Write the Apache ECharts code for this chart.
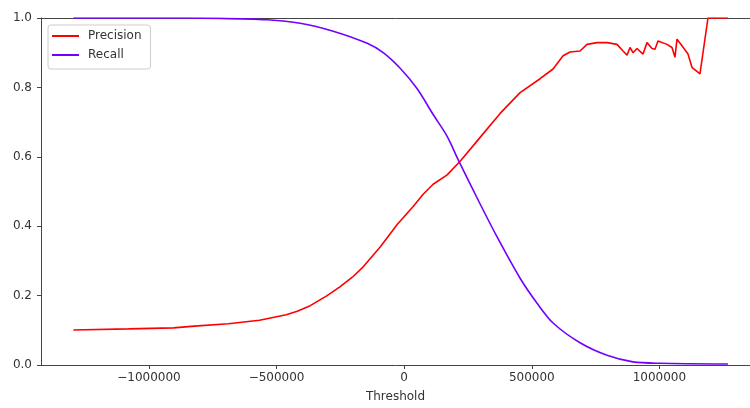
<!DOCTYPE html>
<html>
<head>
<meta charset="utf-8">
<script src="https://cdn.jsdelivr.net/npm/echarts@6/dist/echarts.min.js"></script>
<style>
  html, body { margin: 0; padding: 0; background: #fff; }
  #chart { width: 750px; height: 408px; }
</style>
</head>
<body>
<div id="chart"></div>
<script>
// values
const precisionThresholds = [-1296000, -1080000, -904000, -822000, -689000, -567000, -462000, -419000, -368000, -302000,
    -250600, -203000, -160500, -94000, -27400,
    35200, 74400, 113500, 168400, 219300, 297600, 375900, 454200, 532500, 583400, 622600, 650000, 689100, 716500,
    755700, 794800, 834000, 857500, 873100, 884900, 896600, 912300, 935800, 951400, 971000, 982800, 994500,
    1029800, 1049300, 1061100, 1068900, 1088500, 1112000, 1127600, 1159000, 1166800, 1190300, 1268600];
const precisions = [0.101, 0.104, 0.107, 0.112, 0.119, 0.129, 0.145, 0.155, 0.171, 0.2,
    0.226, 0.253, 0.283, 0.34, 0.405,
    0.457, 0.492, 0.521, 0.548, 0.587, 0.656, 0.725, 0.785, 0.825, 0.853, 0.891, 0.902, 0.905, 0.924,
    0.929, 0.929, 0.924, 0.905, 0.893, 0.915, 0.9, 0.912, 0.896, 0.929, 0.912, 0.91, 0.934,
    0.924, 0.915, 0.887, 0.939, 0.92, 0.896, 0.858, 0.839, 0.836, 1.0, 1.0];

const recallThresholds = [-1296000, -994500, -720400, -536400, -407200, -278000, -144900, -82200, -15700, 50900,
    113500, 168400, 211400, 297600, 364100, 454200, 520700, 583400, 689100, 794800, 896600, 1002300, 1268600];
const recalls = [1.0, 1.0, 0.999, 0.995, 0.985, 0.962, 0.927, 0.9, 0.855, 0.796,
    0.722, 0.659, 0.592, 0.464, 0.369, 0.25, 0.178, 0.121, 0.064, 0.028, 0.009, 0.005, 0.003];

const xTicks = [-1000000, -500000, 0, 500000, 1000000];
const xMin = -1423000;
const xMax = 1355000;

function pairs(xs, ys) {
    return xs.map((x, i) => [x, ys[i]]);
}

var myChart = echarts.init(document.getElementById('chart'));

const axisColor = '#444';
const textColor = '#333';
const font = 'DejaVu Sans';

var option = {
    animation: false,
    grid: { left: 41, right: 0, top: 18, bottom: 39 },
    legend: {
        orient: 'vertical',
        left: 48, top: 25,
        padding: [5, 9, 8, 4],
        itemGap: 7,
        itemWidth: 27, itemHeight: 2,
        icon: 'rect',
        borderColor: '#ccc', borderWidth: 1, borderRadius: 3,
        backgroundColor: '#fff',
        textStyle: { fontFamily: font, fontSize: 12, color: textColor, padding: [0, 0, 0, 4] },
        data: ['Precision', 'Recall']
    },
    xAxis: [
        {
            type: 'value',
            min: xMin, max: xMax,
            name: 'Threshold',
            nameLocation: 'middle',
            nameGap: 26,
            nameTextStyle: { fontFamily: font, fontSize: 12, color: textColor },
            axisLine: { show: true, onZero: false, lineStyle: { color: axisColor } },
            axisTick: { show: true, inside: false, length: 4, customValues: xTicks, lineStyle: { color: axisColor } },
            axisLabel: {
                customValues: xTicks,
                margin: 7,
                fontFamily: font, fontSize: 12, color: textColor,
                formatter: v => String(v).replace('-', '\u2212')
            },
            splitLine: { show: false }
        },
        {
            // top spine only
            type: 'value',
            position: 'top',
            min: xMin, max: xMax,
            axisLine: { show: true, onZero: false, lineStyle: { color: axisColor } },
            axisTick: { show: false },
            axisLabel: { show: false },
            splitLine: { show: false }
        }
    ],
    yAxis: {
        type: 'value',
        min: 0, max: 1, interval: 0.2,
        axisLine: { show: true, onZero: false, lineStyle: { color: axisColor } },
        axisTick: { show: true, inside: false, length: 4, lineStyle: { color: axisColor } },
        axisLabel: {
            margin: 9,
            fontFamily: font, fontSize: 12, color: textColor,
            formatter: v => v.toFixed(1)
        },
        splitLine: { show: false }
    },
    series: [
        {
            name: 'Precision',
            type: 'line',
            xAxisIndex: 0,
            data: pairs(precisionThresholds, precisions),
            showSymbol: false, symbol: 'none',
            lineStyle: { color: '#ff0000', width: 1.6 },
            itemStyle: { color: '#ff0000' }
        },
        {
            name: 'Recall',
            type: 'line',
            xAxisIndex: 0,
            data: pairs(recallThresholds, recalls),
            showSymbol: false, symbol: 'none',
            smooth: 0.3,
            lineStyle: { color: '#7300ff', width: 1.6 },
            itemStyle: { color: '#7300ff' }
        }
    ]
};
myChart.setOption(option);
</script>
</body>
</html>
